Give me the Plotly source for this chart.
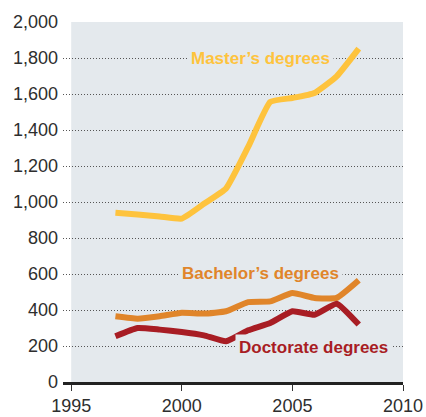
import plotly.graph_objects as go

years = [1997, 1998, 1999, 2000, 2001, 2002, 2003, 2004, 2005, 2006, 2007, 2008]
masters = [940, 930, 920, 908, 990, 1075, 1306, 1556, 1578, 1606, 1698, 1852]
bachelors = [365, 352, 365, 385, 380, 393, 444, 448, 494, 467, 467, 565]
doctorate = [254, 300, 291, 278, 259, 226, 287, 328, 393, 374, 435, 319]

x_ticks = [1995, 2000, 2005, 2010]
y_ticks = [0, 200, 400, 600, 800, 1000, 1200, 1400, 1600, 1800, 2000]

C_MAS = "#FEC33D"
C_BAC = "#E0852A"
C_DOC = "#A81D24"
SHADE = "#E4E9ED"

fig = go.Figure()
for vals, col in [(masters, C_MAS), (bachelors, C_BAC), (doctorate, C_DOC)]:
    fig.add_trace(go.Scatter(x=years, y=vals, mode="lines",
                             line=dict(color=col, width=6, shape="spline", smoothing=0.4),
                             hoverinfo="skip", showlegend=False))

fig.add_shape(type="rect", xref="x", yref="y", x0=1995, x1=2010, y0=0, y1=2000,
              fillcolor=SHADE, line=dict(width=0), layer="below")

ann_font = dict(family="Liberation Sans, Arial, sans-serif", size=17)
for txt, xv, yv, col in [("Master’s degrees", 2003.55, 1798, C_MAS),
                          ("Bachelor’s degrees", 2003.57, 604, C_BAC),
                          ("Doctorate degrees", 2005.95, 193, C_DOC)]:
    fig.add_annotation(x=xv, y=yv, text="<b>" + txt + "</b>", showarrow=False,
                       font=dict(color=col, **ann_font), bgcolor=SHADE, borderpad=3,
                       xanchor="center", yanchor="middle")

fig.update_layout(
    width=426, height=417,
    margin=dict(l=63, r=23, t=22, b=35),
    paper_bgcolor="white", plot_bgcolor="white",
    font=dict(family="Liberation Sans, Arial, sans-serif", size=18, color="#2e2e2e"),
    xaxis=dict(range=[1994.63, 2010], tickvals=x_ticks, showgrid=False, zeroline=False,
               showline=True, linecolor="#222222", linewidth=2.5,
               ticks="outside", ticklen=6, tickwidth=1, tickcolor="#333333",
               automargin=False, fixedrange=True),
    yaxis=dict(range=[0, 2000], tickvals=y_ticks, tickformat=",d", showgrid=True,
               gridcolor="#555555", gridwidth=1, griddash="1px,2px", zeroline=False,
               showline=False, ticks="", ticklabelstandoff=4, automargin=False,
               fixedrange=True),
)

fig.write_html(
    "out.html",
    config={"displayModeBar": False},
    post_script="document.body.style.margin='0';document.documentElement.style.overflow='hidden';document.body.style.overflow='hidden';",
)
